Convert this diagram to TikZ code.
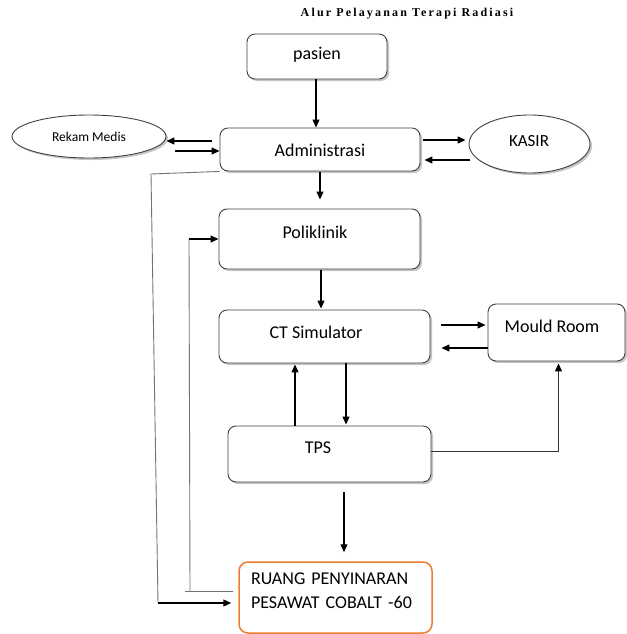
\documentclass[tikz,border=0pt]{standalone}
\usepackage{fontspec}
\setmainfont{Carlito}
\newfontfamily\judulfont{Liberation Serif}[LetterSpace=18]
\usetikzlibrary{shapes,shadows,calc,arrows.meta}

\tikzset{
  >={Triangle[length=8pt,width=7pt]},
  kotak/.style={draw=black!75, line width=0.9pt, rounded corners=8pt, fill=white,
    drop shadow={shadow xshift=2pt, shadow yshift=-2pt, fill=black!45}},
  elips/.style={ellipse, draw=black!75, line width=0.9pt, fill=white,
    drop shadow={shadow xshift=2pt, shadow yshift=-2pt, fill=black!45}},
  tulisan/.style={font=\fontsize{18}{22}\selectfont, inner sep=0pt},
  panah/.style={->, line width=1.2pt, black},
  garis/.style={line width=0.9pt, black!55}
}

\begin{document}
\begin{tikzpicture}[x=1pt,y=-1pt]
   \useasboundingbox (0,0) rectangle (626,634);

   \node[font=\judulfont\bfseries\fontsize{12}{14}\selectfont] (judul) at (407,14) {Alur Pelayanan Terapi Radiasi};

   \node[kotak, minimum width=140pt, minimum height=45pt,
     label={[tulisan, yshift=1.5pt]center:pasien}] (pasien) at (317,56.5) {};
   \node[kotak, minimum width=200pt, minimum height=43pt,
     label={[tulisan, yshift=-0.5pt]center:Administrasi}] (admin) at (320,149.5) {};
   \node[elips, minimum width=154pt, minimum height=43pt,
     label={[tulisan, font=\fontsize{13.5}{16}\selectfont, yshift=-0.5pt]center:Rekam Medis}] (rekam) at (89,136.5) {};
   \node[elips, minimum width=121pt, minimum height=58pt,
     label={[tulisan, font=\fontsize{17}{20}\selectfont, xshift=-0.5pt, yshift=3pt]center:KASIR}] (kasir) at (529.5,144) {};
   \node[kotak, minimum width=201pt, minimum height=60pt,
     label={[tulisan, xshift=-4.5pt, yshift=7pt]center:Poliklinik}] (poli) at (319.5,239) {};
   \node[kotak, minimum width=211pt, minimum height=53pt,
     label={[tulisan, xshift=-8.5pt, yshift=4.5pt]center:CT Simulator}] (ct) at (324.5,336.5) {};
   \node[kotak, minimum width=137pt, minimum height=57pt,
     label={[tulisan, xshift=-4.5pt, yshift=6.5pt]center:Mould Room}] (mould) at (556.5,332.5) {};
   \node[kotak, minimum width=203pt, minimum height=56pt,
     label={[tulisan, xshift=-11.5pt, yshift=6pt]center:TPS}] (tps) at (329.5,454) {};
   \node[draw={rgb,255:red,237;green,125;blue,49}, line width=1.5pt, rounded corners=9pt, fill=white,
     minimum width=193pt, minimum height=71pt,
     label={[tulisan, font=\fontsize{18}{24}\selectfont, text width=170pt, align=left, xshift=0.5pt, yshift=6.5pt]center:{RUANG PENYINARAN\\PESAWAT COBALT -60}}] (ruang) at (335.5,597.5) {};

   % alur utama
   \draw[panah] ($(pasien.south)+(-1,0)$) -- ($(admin.north)+(-4,0)$);
   \draw[panah] ($(admin.west)+(-8,-8.5)$) -- ($(rekam.east)+(0,4.5)$);
   \draw[panah] ($(rekam.east)+(9,14.5)$) -- ($(admin.west)+(0,1.5)$);
   \draw[panah] ($(admin.east)+(3,-9.5)$) -- ($(kasir.west)+(-3,-4)$);
   \draw[panah] ($(kasir.west)+(1,16)$) -- ($(admin.east)+(4,10.5)$);
   \draw[panah] ($(admin.south)+(0,1)$) -- ($(poli.north)+(0.5,-9)$);
   \draw[panah] ($(poli.south)+(1.5,1)$) -- ($(ct.north)+(-3.5,-1)$);
   \draw[panah] ($(ct.east)+(11,-11.5)$) -- ($(mould.west)+(-2,-7.5)$);
   \draw[panah] ($(mould.west)+(0,15.5)$) -- ($(ct.east)+(11,11.5)$);
   \draw[panah] ($(tps.north)+(-34.5,0)$) -- ($(ct.south)+(-29.5,1)$);
   \draw[panah] ($(ct.south)+(21.5,0)$) -- ($(tps.north)+(16.5,-1)$);
   \draw[garis, black!80] ($(tps.east)+(0,-3)$) -| ($(mould.south)+(2,8)$);
   \draw[panah] ($(mould.south)+(2,8)$) -- ($(mould.south)+(2,2)$);
   \draw[panah] ($(tps.south)+(14.5,10)$) -- ($(ruang.north)+(8.5,-9)$);

   % jalur samping kiri
   \coordinate (kiriA) at (151,174);
   \coordinate (kiriB) at (158,603);
   \coordinate (kananA) at (185,591);
   \coordinate (kananB) at (190,591);
   \coordinate (kananC) at (189,239);
   \draw[garis] (admin.south west) -- (kiriA) -- (kiriB);
   \draw[panah] (kiriB) -- ($(ruang.west)+(-7,5.5)$);
   \draw[garis] ($(ruang.west)+(-5,-6.5)$) -- (kananA);
   \draw[garis] (kananB) -- (kananC);
   \draw[panah] (kananC) -- (poli.west);
   %\draw[help lines] (0,0) grid[step=50] (626,634);
\end{tikzpicture}
\end{document}
